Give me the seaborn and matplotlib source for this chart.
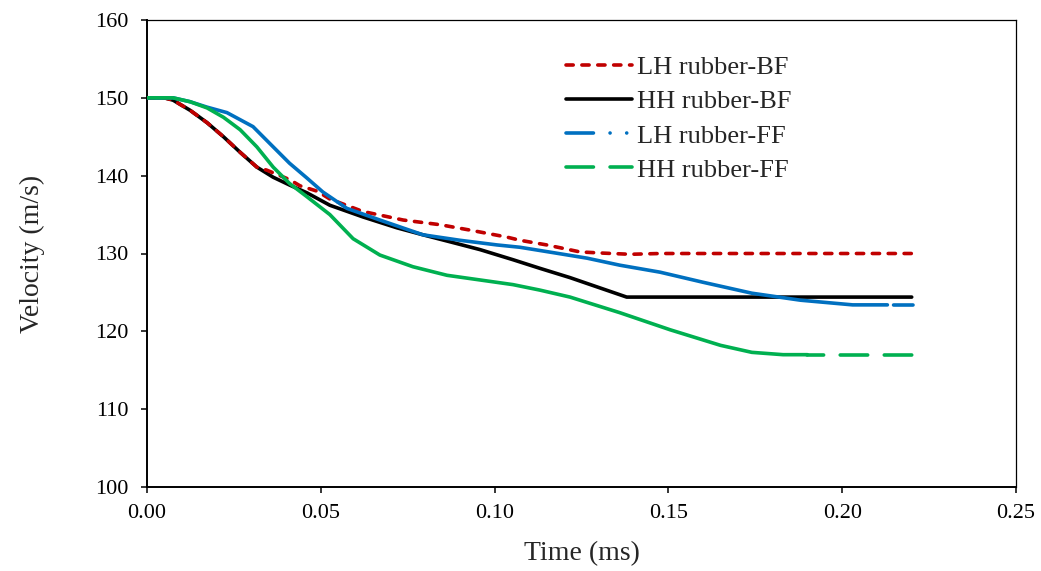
import numpy as np
import pandas as pd
import matplotlib
matplotlib.use("Agg")
import matplotlib.pyplot as plt
import seaborn as sns

# ---------------- data ----------------
t_hh_bf = [0, 0.005, 0.0075, 0.0124, 0.0173, 0.022, 0.0268, 0.0316, 0.0363, 0.041,
           0.046, 0.0526, 0.0621, 0.0719, 0.0794, 0.0872, 0.0958, 0.1053, 0.113,
           0.1217, 0.138, 0.22]
v_hh_bf = [150, 150, 149.7, 148.4, 146.8, 145.0, 143.0, 141.1, 139.8, 138.8,
           137.8, 136.2, 134.7, 133.3, 132.4, 131.5, 130.5, 129.2, 128.1,
           126.9, 124.4, 124.4]

t_lh_bf = [0, 0.005, 0.0075, 0.0124, 0.0173, 0.022, 0.0268, 0.0316, 0.0345, 0.041,
           0.044, 0.049, 0.0526, 0.0621, 0.0737, 0.0843, 0.093, 0.1036, 0.1073,
           0.115, 0.1246, 0.1312, 0.139, 0.1476, 0.22]
v_lh_bf = [150, 150, 149.7, 148.4, 146.8, 145.0, 143.0, 141.1, 140.7, 139.5,
           138.7, 138.0, 137.0, 135.4, 134.3, 133.7, 133.0, 132.1, 131.7,
           131.1, 130.2, 130.05, 129.9, 130.0, 130.0]

t_lh_ff = [0, 0.0075, 0.0124, 0.0173, 0.023, 0.0305, 0.0363, 0.041, 0.046, 0.0506,
           0.0575, 0.067, 0.0794, 0.090, 0.1007, 0.1073, 0.117, 0.1266, 0.136,
           0.1476, 0.16, 0.174, 0.188, 0.203, 0.213, 0.2204]
v_lh_ff = [150, 150, 149.5, 148.8, 148.1, 146.3, 143.7, 141.6, 139.7, 137.9,
           135.8, 134.3, 132.4, 131.7, 131.1, 130.8, 130.1, 129.4, 128.5,
           127.6, 126.3, 124.9, 124.0, 123.4, 123.4, 123.4]

t_hh_ff = [0, 0.0075, 0.0124, 0.0173, 0.022, 0.0268, 0.0316, 0.0363, 0.041, 0.046,
           0.0526, 0.0593, 0.067, 0.0765, 0.0863, 0.0958, 0.1053, 0.113, 0.1217,
           0.136, 0.1505, 0.165, 0.174, 0.183, 0.19, 0.22]
v_hh_ff = [150, 150, 149.5, 148.7, 147.5, 145.9, 143.7, 141.1, 139.0, 137.3,
           135.0, 131.9, 129.8, 128.3, 127.2, 126.6, 126.0, 125.3, 124.4,
           122.4, 120.2, 118.2, 117.3, 117.0, 117.0, 117.0]

labels = ["LH rubber-BF", "HH rubber-BF", "LH rubber-FF", "HH rubber-FF"]
colors = ["#C00000", "#000000", "#0070C0", "#00B050"]
x_ticks = [0.00, 0.05, 0.10, 0.15, 0.20, 0.25]
y_ticks = [100, 110, 120, 130, 140, 150, 160]

# ---------------- style ----------------
sns.set_theme(style="ticks")
plt.rcParams["font.family"] = ["Liberation Serif", "DejaVu Serif"]

fig, ax = plt.subplots(figsize=(10.41, 5.71), dpi=100)
fig.subplots_adjust(left=147/1041, right=1016/1041, top=1-20/571, bottom=1-487/571)

lw = 2.6
common = dict(ax=ax, estimator=None, sort=False, linewidth=lw,
              solid_capstyle="round", dash_capstyle="round")

dash_red = (0, (2.0, 2.4))
dashdot_blue = (0, (7.6, 4.6, 0.01, 4.6, 0.01, 4.6))
longdash_green = (0, (7.6, 4.6))

# LH rubber-BF (dashed)
sns.lineplot(x=t_lh_bf, y=v_lh_bf, color=colors[0], linestyle=dash_red,
             label=labels[0], zorder=3, **common)
# HH rubber-BF (solid)
sns.lineplot(x=t_hh_bf, y=v_hh_bf, color=colors[1], linestyle="-",
             label=labels[1], zorder=2, **common)
# LH rubber-FF (dash-dot; dense segments render as solid)
i_b = t_lh_ff.index(0.213)
sns.lineplot(x=t_lh_ff[:i_b + 1], y=v_lh_ff[:i_b + 1], color=colors[2], linestyle="-",
             label="_nolegend_", zorder=4, **common)
sns.lineplot(x=t_lh_ff[i_b:], y=v_lh_ff[i_b:], color=colors[2],
             linestyle=(19.6, dashdot_blue[1]),
             label=labels[2], zorder=4, **common)
# HH rubber-FF (long dash; dense segments render as solid)
i_g = t_hh_ff.index(0.19)
sns.lineplot(x=t_hh_ff[:i_g + 1], y=v_hh_ff[:i_g + 1], color=colors[3], linestyle="-",
             label="_nolegend_", zorder=5, **common)
sns.lineplot(x=t_hh_ff[i_g:], y=v_hh_ff[i_g:], color=colors[3],
             linestyle=(3.0, longdash_green[1]),
             label=labels[3], zorder=5, **common)

ax.set_xlim(0, 0.25)
ax.set_ylim(100, 160)
ax.set_xticks(x_ticks)
ax.set_xticklabels([f"{v:.2f}" for v in x_ticks])
ax.set_yticks(y_ticks)
ax.tick_params(axis="both", which="major", direction="out", length=4.5, width=1.1,
               labelsize=16, colors="black")
ax.tick_params(axis="y", pad=9)
ax.tick_params(axis="x", pad=8)

for side in ["left", "bottom"]:
    ax.spines[side].set_linewidth(1.4)
    ax.spines[side].set_color("black")
for side in ["top", "right"]:
    ax.spines[side].set_visible(True)
    ax.spines[side].set_linewidth(0.9)
    ax.spines[side].set_color("black")

ax.set_xlabel("Time (ms)", fontsize=20, labelpad=13)
ax.set_ylabel("Velocity (m/s)", fontsize=20, labelpad=36)
ax.grid(False)

leg = ax.legend(loc="upper left", bbox_to_anchor=(566/1041, 1-56/571),
                bbox_transform=fig.transFigure, frameon=False, fontsize=19,
                handlelength=2.5, handletextpad=0.2, labelspacing=0.4,
                borderpad=0, borderaxespad=0)
handles = leg.legend_handles
handles[2].set_linestyle(dashdot_blue)
handles[3].set_linestyle(longdash_green)

fig.savefig("out.png", dpi=100)
